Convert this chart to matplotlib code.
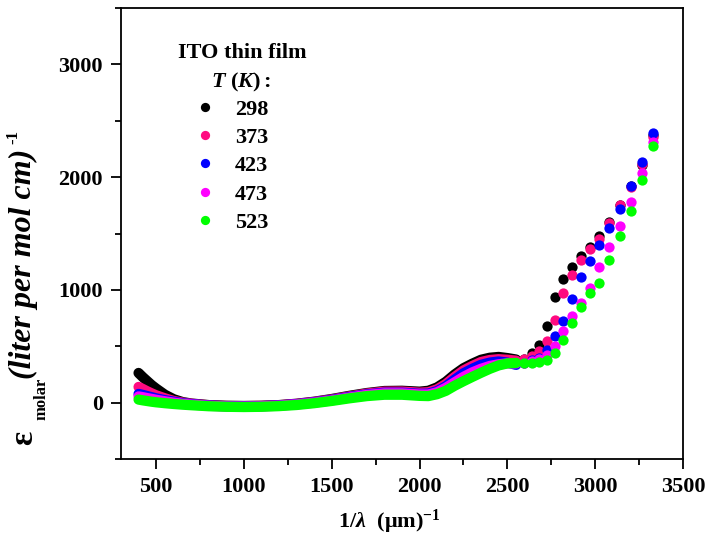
import matplotlib
matplotlib.use("Agg")
import matplotlib.pyplot as plt
from matplotlib.ticker import MultipleLocator

plt.rcParams['font.family'] = ['Liberation Serif', 'DejaVu Serif']
plt.rcParams['font.weight'] = 'bold'
plt.rcParams['mathtext.fontset'] = 'custom'
plt.rcParams['mathtext.rm'] = 'Liberation Serif:bold'
plt.rcParams['mathtext.bf'] = 'Liberation Serif:bold'
plt.rcParams['mathtext.it'] = 'Liberation Serif:italic:bold'
plt.rcParams['mathtext.bfit'] = 'Liberation Serif:italic:bold'

# ---------------- data ----------------
temps = ['298', '373', '423', '473', '523']
colors = ['#000000', '#FF0A80', '#0000FF', '#FF00FF', '#00FF00']

# dense (continuous-looking) part of the spectrum, 1/lambda
x_dense = [400, 425, 450, 475, 500, 550, 600, 650, 700, 800, 900, 1000, 1100, 1200,
           1300, 1400, 1500, 1600, 1700, 1800, 1900, 2000, 2050, 2100, 2150, 2200,
           2250, 2300, 2350, 2400, 2450, 2500, 2550]
# sparse part (individual points visible)
x_sparse = [2595, 2638, 2680, 2724, 2771, 2818, 2866, 2917, 2970, 3023, 3080, 3141,
            3202, 3264, 3327]

y298_dense = [263, 225, 190, 155, 125, 70, 30, 5, -8, -22, -28, -30, -28, -22,
              -10, 8, 32, 60, 85, 103, 105, 97, 105, 135, 185, 250,
              305, 345, 380, 398, 405, 395, 382]
y373_dense = [139, 120, 100, 82, 65, 38, 15, 0, -10, -24, -30, -31, -29, -23,
              -12, 6, 28, 55, 80, 97, 98, 88, 92, 118, 165, 228,
              285, 325, 360, 378, 385, 380, 372]
y423_dense = [77, 68, 58, 48, 38, 22, 8, -5, -13, -26, -32, -33, -31, -25,
              -14, 3, 24, 50, 73, 88, 88, 78, 80, 102, 145, 205,
              260, 300, 335, 355, 365, 355, 335]
y473_dense = [55, 48, 40, 33, 25, 12, 0, -10, -17, -28, -34, -35, -33, -27,
              -16, 0, 20, 45, 68, 82, 82, 72, 72, 92, 132, 180,
              228, 268, 300, 325, 340, 348, 348]
y523_dense = [27, 20, 14, 8, 3, -5, -12, -18, -23, -32, -37, -39, -37, -31,
              -21, -5, 15, 38, 58, 70, 70, 60, 58, 75, 105, 150,
              190, 228, 265, 300, 330, 348, 352]

y298_sparse = [385, 440, 513, 681, 935, 1097, 1206, 1301, 1383, 1478, 1605, 1752,
               1920, 2110, 2370]
y373_sparse = [385, 410, 460, 543, 735, 971, 1133, 1265, 1363, 1449, 1595, 1752,
               1915, 2115, 2360]
y423_sparse = [350, 375, 400, 469, 587, 720, 918, 1112, 1259, 1398, 1546, 1717,
               1920, 2136, 2390]
y473_sparse = [355, 365, 385, 420, 504, 637, 770, 882, 1015, 1206, 1383, 1569,
               1782, 2038, 2312]
y523_sparse = [350, 350, 356, 380, 440, 557, 705, 847, 971, 1065, 1265, 1481,
               1702, 1973, 2274]

dense = [y298_dense, y373_dense, y423_dense, y473_dense, y523_dense]
sparse = [y298_sparse, y373_sparse, y423_sparse, y473_sparse, y523_sparse]

x_ticks = [500, 1000, 1500, 2000, 2500, 3000, 3500]
y_ticks = [0, 1000, 2000, 3000]

# ---------------- figure ----------------
W, H = 709, 548
fig = plt.figure(figsize=(W / 100, H / 100), dpi=100)
ax = fig.add_axes([121 / W, 1 - 459 / H, (683 - 121) / W, (459 - 8) / H])

ms = 7.4
handles = []
for i in range(5):
    ax.plot(x_dense, dense[i], '-', color=colors[i], lw=ms, solid_capstyle='round',
            solid_joinstyle='round', zorder=2 + i)
    h, = ax.plot(x_sparse, sparse[i], 'o', color=colors[i], ms=ms, mec='none',
                 zorder=2 + i, label=temps[i])
    handles.append(h)

ax.set_xlim(300, 3500)
ax.set_ylim(-500, 3500)
ax.set_xticks(x_ticks)
ax.set_yticks(y_ticks)
ax.xaxis.set_minor_locator(MultipleLocator(250))
ax.yaxis.set_minor_locator(MultipleLocator(500))
ax.tick_params(which='both', direction='out', top=False, right=False, width=1.3)
ax.tick_params(which='major', length=7, labelsize=16, pad=6)
ax.tick_params(which='minor', length=4)
for lab in ax.get_xticklabels() + ax.get_yticklabels():
    lab.set_fontweight('bold')
for s in ax.spines.values():
    s.set_linewidth(1.3)

# x label
ax.set_xlabel(r'$\mathbf{1/}\mathbfit{λ}\ \ \mathbf{(μm)}^{\mathbf{-1}}$', fontsize=16)
ax.xaxis.set_label_coords(0.477, -0.108)

# y label pieces
fig.text(24 / W, 1 - 438 / H, 'ε', fontsize=24, fontweight='bold', rotation=90,
         ha='center', va='center')
fig.text(41 / W, 1 - 399 / H, 'molar', fontsize=12, fontweight='bold', rotation=90,
         ha='center', va='center')
fig.text(23 / W, 1 - 264 / H, '(liter per mol cm)', fontsize=23, fontweight='bold',
         style='italic', rotation=90, ha='center', va='center')
fig.text(13 / W, 1 - 137 / H, '-1', fontsize=12, fontweight='bold', rotation=90,
         ha='center', va='center')

# legend headers
fig.text(242 / W, 1 - 53 / H, 'ITO thin film', fontsize=16, fontweight='bold',
         ha='center', va='center')
fig.text(241 / W, 1 - 82 / H, r'$\mathbfit{T}\ \mathbf{(}\mathbfit{K}\mathbf{):}$',
         fontsize=16, ha='center', va='center')

leg = ax.legend(handles=handles, labels=temps, loc='upper left',
                bbox_to_anchor=(194 / W, 1 - 99 / H), bbox_transform=fig.transFigure,
                frameon=False, fontsize=16, numpoints=1, handlelength=1.0,
                handletextpad=0.85, labelspacing=0.35, borderpad=0, borderaxespad=0,
                markerscale=0.9)
for t in leg.get_texts():
    t.set_fontweight('bold')

fig.savefig('out.png', dpi=100)
